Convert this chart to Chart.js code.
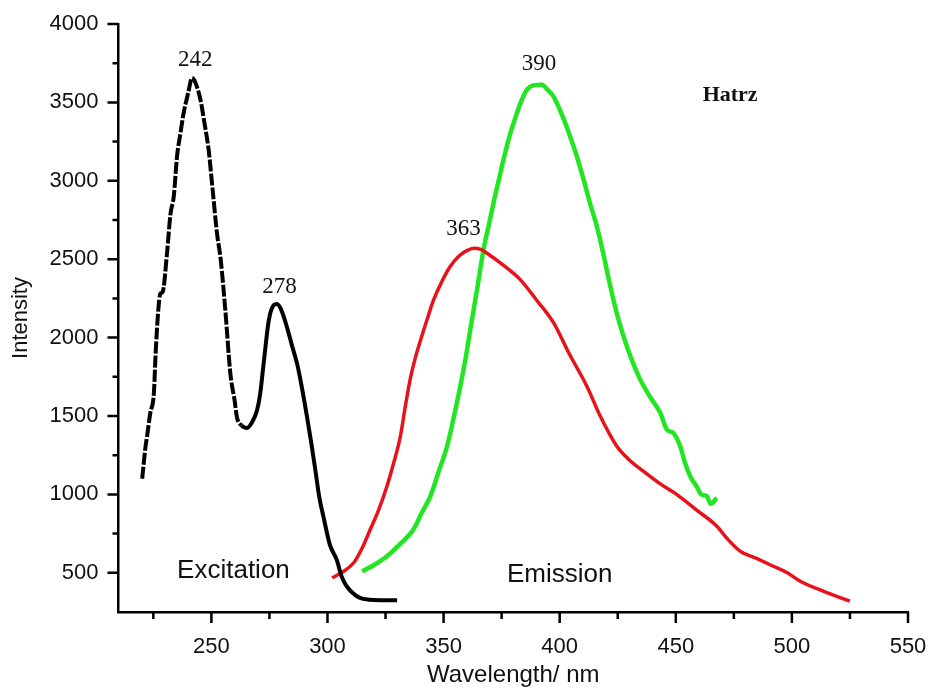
<!DOCTYPE html>
<html lang="en">
  <head>
    <meta charset="UTF-8" />
    <title>Hatrz excitation / emission</title>
    <script src="https://cdn.jsdelivr.net/npm/chart.js"></script>
    <style>
      html, body { margin: 0; padding: 0; background: #fff; }
      #wrap { width: 928px; height: 688px; position: relative; }
    </style>
  </head>
  <body>
    <div id="wrap"><canvas id="chart"></canvas></div>

    <script>
      // excitation spectrum (black)
      const excitationX = [220.2, 221.6, 222.3, 223.7, 225.2, 226, 227, 228, 229, 230.9, 232.4, 233.8, 235.2, 236.7, 238, 240, 241.7, 243, 245.3, 247, 248.8, 250.5, 252.4, 254, 256, 258.2, 260, 261, 263, 265.4, 267.5, 269.7, 271, 272.5, 274.7, 276.5, 278.3, 280, 282.6, 284.5, 286.9, 289, 291.2, 293, 294.8, 296.5, 298.3, 301, 304, 306, 308, 311, 314, 318, 322.5, 330];
      const excitationY = [1100, 1300, 1370, 1520, 1640, 1900, 2150, 2280, 2290, 2540, 2790, 2900, 3155, 3305, 3428, 3560, 3656, 3630, 3517, 3370, 3199, 2950, 2667, 2500, 2176, 1766, 1600, 1492, 1440, 1424, 1460, 1538, 1640, 1834, 2108, 2200, 2215, 2180, 2064, 1960, 1834, 1680, 1493, 1330, 1152, 980, 855, 680, 582, 480, 420, 370, 340, 328, 325, 325];

      // emission, red trace
      const redX = [302, 306, 311.3, 315, 318.4, 322, 325.6, 328.5, 331.4, 333.5, 335.7, 338, 340, 343, 345.7, 349, 352.9, 357, 360, 363, 366, 369, 375, 383, 390, 397.4, 404, 411.7, 417.5, 424.6, 430, 436, 443, 450.5, 459, 467.7, 472, 477.7, 485, 492, 498, 503.6, 514, 525];
      const redY = [468, 500, 564, 660, 776, 900, 1052, 1200, 1371, 1560, 1740, 1880, 1980, 2120, 2240, 2350, 2455, 2525, 2555, 2570, 2562, 2535, 2470, 2370, 2240, 2094, 1900, 1690, 1498, 1307, 1220, 1148, 1070, 999, 900, 797, 720, 638, 590, 542, 500, 446, 380, 319];

      // emission, green trace
      const greenX = [314.9, 320, 325.6, 331, 337, 340.5, 344.3, 348, 351.5, 354.5, 357.2, 359.5, 361.5, 364.4, 367.2, 369.5, 371.5, 373.7, 375.8, 378.5, 381.6, 383.8, 385.9, 389, 392.3, 394.8, 397.3, 401, 404.5, 407.5, 410.3, 413, 416, 419, 421.8, 424.5, 427.5, 431, 434.7, 439, 443.3, 446.2, 449, 451.9, 454, 456.2, 459, 461, 463.4, 465, 467.7];
      const greenY = [510, 550, 606, 680, 776, 880, 988, 1150, 1307, 1500, 1690, 1870, 2051, 2306, 2561, 2720, 2859, 3000, 3135, 3290, 3433, 3520, 3581, 3610, 3613, 3580, 3538, 3420, 3283, 3150, 3007, 2860, 2710, 2520, 2327, 2160, 2008, 1860, 1732, 1620, 1520, 1413, 1390, 1307, 1200, 1116, 1050, 1000, 988, 940, 978];

      const xTickValues = [250, 300, 350, 400, 450, 500, 550];
      const yTickValues = [500, 1000, 1500, 2000, 2500, 3000, 3500, 4000];

      // text placed on the plot: [text, x, y]
      const peakLabels = [
        ["242", 243.1, 3769],
        ["278", 279.3, 2325],
        ["363", 358.6, 2695],
        ["390", 391.1, 3748],
      ];
      const regionLabels = [
        ["Excitation", 259.5, 515],
        ["Emission", 400, 490],
      ];
      const sampleName = ["Hatrz", 473.4, 3545];

      const xMin = 210, xMax = 550;
      const yMin = 250, yMax = 4000;

      function points(xs, ys) {
        return xs.map((x, i) => ({ x: x, y: ys[i] }));
      }

      // major + minor tick marks, drawn outwards
      const tickMarks = {
        id: "tickMarks",
        afterDraw(chart) {
          const ctx = chart.ctx;
          const xs = chart.scales.x, ys = chart.scales.y;
          const area = chart.chartArea;
          ctx.save();
          ctx.strokeStyle = "#000";
          ctx.lineWidth = 2.5;
          ctx.beginPath();
          for (let v = 225; v <= xMax; v += 25) {
            const p = xs.getPixelForValue(v);
            const len = v % 50 === 0 ? 11 : 7;
            ctx.moveTo(p, area.bottom);
            ctx.lineTo(p, area.bottom + len);
          }
          for (let v = 500; v <= yMax; v += 250) {
            const p = ys.getPixelForValue(v);
            const len = v % 500 === 0 ? 11 : 6;
            ctx.moveTo(area.left, p);
            ctx.lineTo(area.left - len, p);
          }
          ctx.stroke();
          ctx.restore();
        },
      };

      const plotText = {
        id: "plotText",
        afterDatasetsDraw(chart) {
          const ctx = chart.ctx;
          const xs = chart.scales.x, ys = chart.scales.y;
          ctx.save();
          ctx.fillStyle = "#111";
          ctx.textAlign = "center";
          ctx.textBaseline = "middle";
          ctx.font = "23px 'Liberation Serif', 'Times New Roman', serif";
          peakLabels.forEach(([t, x, y]) => {
            ctx.fillText(t, xs.getPixelForValue(x), ys.getPixelForValue(y));
          });
          ctx.font = "26px 'Liberation Sans', Arial, sans-serif";
          regionLabels.forEach(([t, x, y]) => {
            ctx.fillText(t, xs.getPixelForValue(x), ys.getPixelForValue(y));
          });
          ctx.font = "bold 22px 'Liberation Serif', 'Times New Roman', serif";
          ctx.fillText(sampleName[0], xs.getPixelForValue(sampleName[1]), ys.getPixelForValue(sampleName[2]));
          ctx.restore();
        },
      };

      const sansFont = "'Liberation Sans', Arial, sans-serif";

      new Chart(document.getElementById("chart"), {
        type: "line",
        data: {
          datasets: [
            {
              label: "Excitation",
              data: points(excitationX, excitationY),
              borderColor: "#000",
              borderWidth: 4,
              pointRadius: 0,
              cubicInterpolationMode: "monotone",
              segment: {
                borderDash: (c) => (c.p0.parsed.x < 262 ? [12, 2] : undefined),
              },
            },
            {
              label: "Emission red",
              data: points(redX, redY),
              borderColor: "#e8121b",
              borderWidth: 3.5,
              pointRadius: 0,
              cubicInterpolationMode: "monotone",
            },
            {
              label: "Emission green",
              data: points(greenX, greenY),
              borderColor: "#22e622",
              borderWidth: 4.5,
              pointRadius: 0,
              cubicInterpolationMode: "monotone",
            },
          ],
        },
        options: {
          responsive: true,
          maintainAspectRatio: false,
          animation: false,
          layout: { padding: { top: 24, right: 20, left: 0, bottom: 0 } },
          plugins: {
            legend: { display: false },
            tooltip: { enabled: false },
          },
          scales: {
            x: {
              type: "linear",
              min: xMin,
              max: xMax,
              grid: { display: false, drawTicks: false },
              border: { display: true, color: "#000", width: 2.5 },
              afterBuildTicks(scale) {
                scale.ticks = xTickValues.map((v) => ({ value: v }));
              },
              ticks: {
                padding: 22,
                color: "#111",
                font: { family: sansFont, size: 22 },
                callback: (v) => String(v),
              },
              title: {
                display: true,
                text: "Wavelength/ nm",
                color: "#111",
                font: { family: sansFont, size: 24 },
                padding: { top: 0, bottom: -2 },
              },
              afterFit(scale) {
                scale.height = 76;
                scale.paddingLeft = 0;
                scale.paddingRight = 0;
              },
            },
            y: {
              min: yMin,
              max: yMax,
              grid: { display: false, drawTicks: false },
              border: { display: true, color: "#000", width: 2.5 },
              afterBuildTicks(scale) {
                scale.ticks = yTickValues.map((v) => ({ value: v }));
              },
              ticks: {
                padding: 20,
                color: "#111",
                font: { family: sansFont, size: 22 },
                callback: (v) => String(v),
              },
              title: {
                display: true,
                text: "Intensity",
                color: "#111",
                font: { family: sansFont, size: 22 },
                padding: { top: 8, bottom: 6 },
              },
              afterFit(scale) {
                scale.width = 118.5;
                scale.paddingTop = 0;
                scale.paddingBottom = 0;
              },
            },
          },
        },
        plugins: [tickMarks, plotText],
      });
    </script>
  </body>
</html>
